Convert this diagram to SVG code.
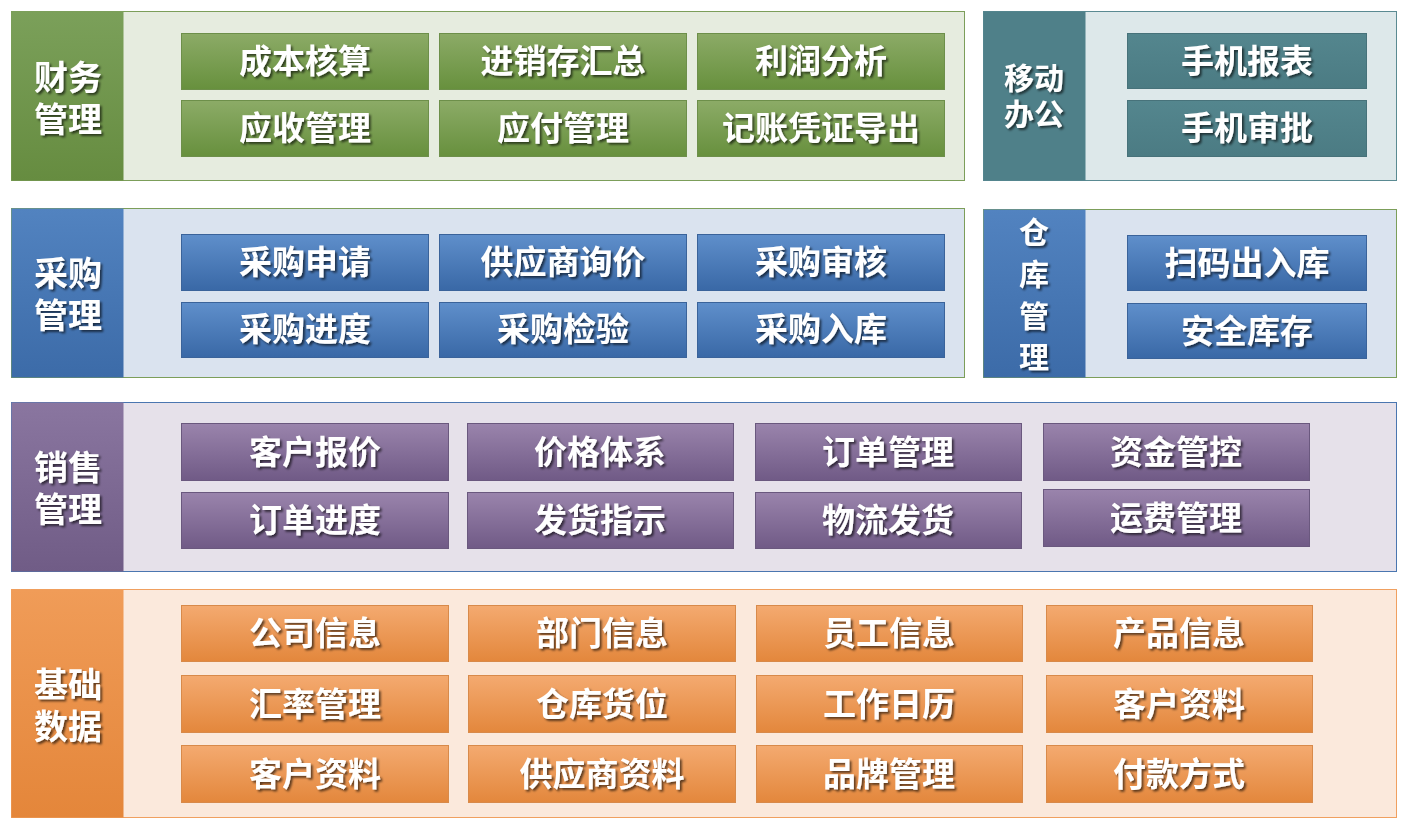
<svg xmlns="http://www.w3.org/2000/svg" width="1408" height="829" viewBox="0 0 1408 829">
<defs>
<linearGradient id="gG" x1="0" y1="0" x2="0" y2="1"><stop offset="0" stop-color="#8cab67"/><stop offset="1" stop-color="#67903d"/></linearGradient>
<linearGradient id="gB" x1="0" y1="0" x2="0" y2="1"><stop offset="0" stop-color="#5f8fcb"/><stop offset="1" stop-color="#3968a6"/></linearGradient>
<linearGradient id="gP" x1="0" y1="0" x2="0" y2="1"><stop offset="0" stop-color="#9a84ac"/><stop offset="1" stop-color="#705a86"/></linearGradient>
<linearGradient id="gO" x1="0" y1="0" x2="0" y2="1"><stop offset="0" stop-color="#f4aa70"/><stop offset="1" stop-color="#e3873c"/></linearGradient>
<linearGradient id="gT" x1="0" y1="0" x2="0" y2="1"><stop offset="0" stop-color="#54868e"/><stop offset="1" stop-color="#4b7b83"/></linearGradient>
<linearGradient id="hG" x1="0" y1="0" x2="0" y2="1"><stop offset="0" stop-color="#7ba05a"/><stop offset="1" stop-color="#668c40"/></linearGradient>
<linearGradient id="hB" x1="0" y1="0" x2="0" y2="1"><stop offset="0" stop-color="#5283c0"/><stop offset="1" stop-color="#3c6ba8"/></linearGradient>
<linearGradient id="hP" x1="0" y1="0" x2="0" y2="1"><stop offset="0" stop-color="#8a76a0"/><stop offset="1" stop-color="#705c86"/></linearGradient>
<linearGradient id="hO" x1="0" y1="0" x2="0" y2="1"><stop offset="0" stop-color="#f09c58"/><stop offset="1" stop-color="#e4863a"/></linearGradient>
<filter id="sh" x="-10%" y="-20%" width="130%" height="150%"><feDropShadow dx="2" dy="2" stdDeviation="0.8" flood-color="#000" flood-opacity="0.6"/></filter>
</defs>
<style>
text{font-family:"Noto Sans CJK SC","Noto Sans",sans-serif;font-weight:bold;fill:#fff;text-anchor:middle;dominant-baseline:central;filter:url(#sh)}
.b{font-size:33px}.h{font-size:34px}.hs{font-size:30px}
.g{fill:url(#gG);stroke:#6d8f4a;stroke-width:1}
.bl{fill:url(#gB);stroke:#3a639a;stroke-width:1}
.p{fill:url(#gP);stroke:#6a587e;stroke-width:1}
.o{fill:url(#gO);stroke:#d88a4a;stroke-width:1}
.t{fill:url(#gT);stroke:#47727a;stroke-width:1}
</style>
<g id="finance">
<rect x="11.5" y="11.5" width="953" height="169" fill="#e6ecdf" stroke="#7c9e5a"/>
<rect x="11.5" y="11.5" width="112" height="169" fill="url(#hG)"/>
<text class="h" x="68" y="75">财务</text><text class="h" x="68" y="117">管理</text>
<rect class="g" x="181.5" y="33.5" width="247" height="56"/><text class="b" x="305" y="59">成本核算</text>
<rect class="g" x="439.5" y="33.5" width="247" height="56"/><text class="b" x="563" y="59">进销存汇总</text>
<rect class="g" x="697.5" y="33.5" width="247" height="56"/><text class="b" x="821" y="59">利润分析</text>
<rect class="g" x="181.5" y="100.5" width="247" height="56"/><text class="b" x="305" y="126">应收管理</text>
<rect class="g" x="439.5" y="100.5" width="247" height="56"/><text class="b" x="563" y="126">应付管理</text>
<rect class="g" x="697.5" y="100.5" width="247" height="56"/><text class="b" x="821" y="126">记账凭证导出</text>
</g>
<g id="mobile">
<rect x="983.5" y="11.5" width="413" height="169" fill="#dde8ea" stroke="#5a8a92"/>
<rect x="983.5" y="11.5" width="102" height="169" fill="#4f8089"/>
<text class="hs" x="1034" y="76">移动</text><text class="hs" x="1034" y="112">办公</text>
<rect class="t" x="1127.5" y="33.5" width="239" height="55"/><text class="b" x="1247" y="59">手机报表</text>
<rect class="t" x="1127.5" y="100.5" width="239" height="56"/><text class="b" x="1247" y="126">手机审批</text>
</g>
<g id="purchase">
<rect x="11.5" y="208.5" width="953" height="169" fill="#dae3ef" stroke="#7c9e5a"/>
<rect x="11.5" y="208.5" width="112" height="169" fill="url(#hB)"/>
<text class="h" x="68" y="271">采购</text><text class="h" x="68" y="313">管理</text>
<rect class="bl" x="181.5" y="234.5" width="247" height="56"/><text class="b" x="305" y="260">采购申请</text>
<rect class="bl" x="439.5" y="234.5" width="247" height="56"/><text class="b" x="563" y="260">供应商询价</text>
<rect class="bl" x="697.5" y="234.5" width="247" height="56"/><text class="b" x="821" y="260">采购审核</text>
<rect class="bl" x="181.5" y="302.5" width="247" height="55"/><text class="b" x="305" y="327">采购进度</text>
<rect class="bl" x="439.5" y="302.5" width="247" height="55"/><text class="b" x="563" y="327">采购检验</text>
<rect class="bl" x="697.5" y="302.5" width="247" height="55"/><text class="b" x="821" y="327">采购入库</text>
</g>
<g id="warehouse">
<rect x="983.5" y="209.5" width="413" height="168" fill="#dae3ef" stroke="#7c9e5a"/>
<rect x="983.5" y="209.5" width="102" height="168" fill="url(#hB)"/>
<text class="hs" x="1034" y="230">仓</text><text class="hs" x="1034" y="272">库</text><text class="hs" x="1034" y="314">管</text><text class="hs" x="1034" y="355">理</text>
<rect class="bl" x="1127.5" y="235.5" width="239" height="55"/><text class="b" x="1247" y="261">扫码出入库</text>
<rect class="bl" x="1127.5" y="303.5" width="239" height="55"/><text class="b" x="1247" y="329">安全库存</text>
</g>
<g id="sales">
<rect x="11.5" y="402.5" width="1385" height="169" fill="#e6e1ea" stroke="#4a76b0"/>
<rect x="11.5" y="402.5" width="112" height="169" fill="url(#hP)"/>
<text class="h" x="68" y="465">销售</text><text class="h" x="68" y="507">管理</text>
<rect class="p" x="181.5" y="423.5" width="267" height="57"/><text class="b" x="315" y="450">客户报价</text>
<rect class="p" x="467.5" y="423.5" width="266" height="57"/><text class="b" x="600" y="450">价格体系</text>
<rect class="p" x="755.5" y="423.5" width="266" height="57"/><text class="b" x="888" y="450">订单管理</text>
<rect class="p" x="1043.5" y="423.5" width="266" height="57"/><text class="b" x="1176" y="450">资金管控</text>
<rect class="p" x="181.5" y="492.5" width="267" height="56"/><text class="b" x="315" y="518">订单进度</text>
<rect class="p" x="467.5" y="492.5" width="266" height="56"/><text class="b" x="600" y="518">发货指示</text>
<rect class="p" x="755.5" y="492.5" width="266" height="56"/><text class="b" x="888" y="518">物流发货</text>
<rect class="p" x="1043.5" y="489.5" width="266" height="57"/><text class="b" x="1176" y="516">运费管理</text>
</g>
<g id="basic">
<rect x="11.5" y="589.5" width="1385" height="228" fill="#fbe9dc" stroke="#f0a060"/>
<rect x="11.5" y="589.5" width="112" height="228" fill="url(#hO)"/>
<text class="h" x="68" y="682">基础</text><text class="h" x="68" y="724">数据</text>
<rect class="o" x="181.5" y="605.5" width="267" height="56"/><text class="b" x="315" y="631">公司信息</text>
<rect class="o" x="468.5" y="605.5" width="267" height="56"/><text class="b" x="602" y="631">部门信息</text>
<rect class="o" x="756.5" y="605.5" width="266" height="56"/><text class="b" x="889" y="631">员工信息</text>
<rect class="o" x="1046.5" y="605.5" width="266" height="56"/><text class="b" x="1179" y="631">产品信息</text>
<rect class="o" x="181.5" y="675.5" width="267" height="57"/><text class="b" x="315" y="702">汇率管理</text>
<rect class="o" x="468.5" y="675.5" width="267" height="57"/><text class="b" x="602" y="702">仓库货位</text>
<rect class="o" x="756.5" y="675.5" width="266" height="57"/><text class="b" x="889" y="702">工作日历</text>
<rect class="o" x="1046.5" y="675.5" width="266" height="57"/><text class="b" x="1179" y="702">客户资料</text>
<rect class="o" x="181.5" y="745.5" width="267" height="57"/><text class="b" x="315" y="772">客户资料</text>
<rect class="o" x="468.5" y="745.5" width="267" height="57"/><text class="b" x="602" y="772">供应商资料</text>
<rect class="o" x="756.5" y="745.5" width="266" height="57"/><text class="b" x="889" y="772">品牌管理</text>
<rect class="o" x="1046.5" y="745.5" width="266" height="57"/><text class="b" x="1179" y="772">付款方式</text>
</g>
<g id="connectors"/>
</svg>
